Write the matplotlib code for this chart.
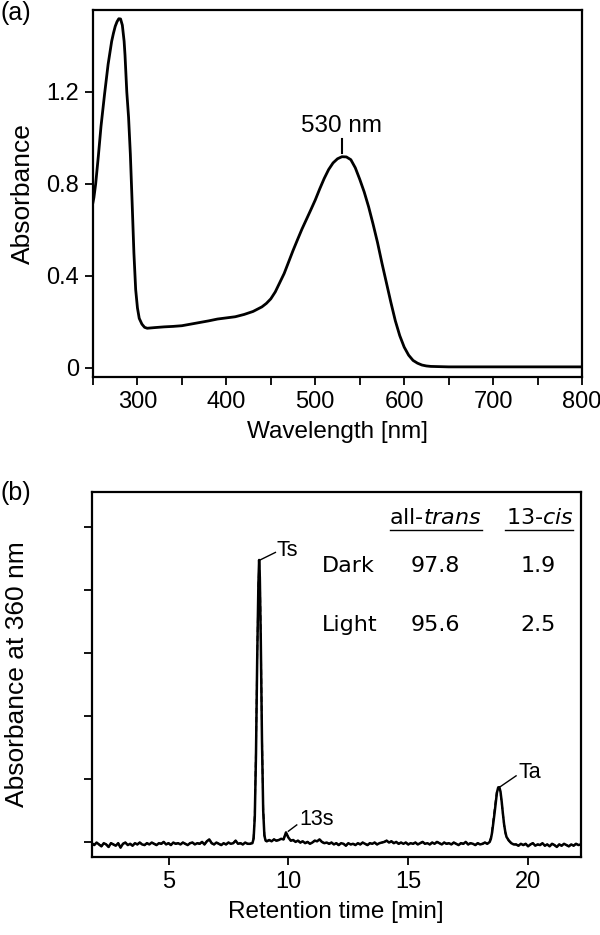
import numpy as np
import matplotlib
matplotlib.use('Agg')
import matplotlib.pyplot as plt

plt.rcParams['font.family'] = ['Liberation Sans', 'DejaVu Sans']
plt.rcParams['mathtext.fontset'] = 'dejavusans'

# (a) absorption spectrum
wavelength = [250, 251, 253, 256, 259, 263, 267, 271, 273, 275, 277, 279, 281, 283, 285,
              286, 288, 290, 292, 294, 296, 298, 300, 302, 305, 308, 311, 320, 330, 340,
              350, 360, 370, 380, 390, 400, 410, 420, 430, 440, 445, 450, 455, 460, 465,
              470, 475, 480, 485, 490, 495, 500, 505, 510, 515, 520, 525, 530, 535, 540,
              545, 550, 555, 560, 565, 570, 575, 580, 585, 590, 595, 600, 605, 610, 615,
              620, 625, 630, 640, 650, 700, 750, 800]
absorbance = [0.72, 0.74, 0.80, 0.92, 1.05, 1.19, 1.32, 1.42, 1.455, 1.485, 1.505, 1.518, 1.517, 1.49, 1.42,
              1.36, 1.20, 1.09, 0.93, 0.72, 0.50, 0.34, 0.26, 0.215, 0.19, 0.176, 0.172, 0.175, 0.178, 0.180,
              0.183, 0.19, 0.197, 0.204, 0.212, 0.217, 0.222, 0.232, 0.245, 0.265, 0.28, 0.30, 0.33, 0.37, 0.41,
              0.46, 0.51, 0.557, 0.603, 0.645, 0.687, 0.73, 0.778, 0.823, 0.862, 0.891, 0.909, 0.918, 0.917, 0.905,
              0.87, 0.82, 0.765, 0.70, 0.625, 0.545, 0.455, 0.37, 0.285, 0.205, 0.14, 0.09, 0.055, 0.032, 0.02,
              0.012, 0.008, 0.006, 0.005, 0.004, 0.004, 0.004, 0.004]

# (b) HPLC chromatogram, baseline sampled every 0.1 min from 1.8 to 22.2
base_t = np.arange(18, 223) / 10
baseline = [
    -0.02, -0.05, -0.01, -0.04, -0.07, -0.02, -0.04, -0.08, -0.02, -0.04,
    -0.06, -0.02, -0.09, -0.03, -0.01, -0.05, -0.03, -0.06, -0.02, -0.04,
    -0.01, -0.04, -0.05, -0.02, -0.04, -0.01, -0.03, -0.05, -0.02, -0.03,
    0.00, -0.04, -0.02, -0.05, -0.01, -0.03, -0.02, -0.04, -0.01, -0.03,
    -0.05, -0.02, -0.01, -0.04, -0.02, -0.03, 0.00, -0.04, 0.01, 0.04,
    -0.02, -0.04, -0.01, -0.03, -0.05, -0.02, -0.04, -0.01, -0.03, -0.02,
    0.02, -0.03, -0.02, -0.04, -0.01, -0.03, -0.02, -0.01, -0.02, 0.00,
    0.00, 0.00, 0.00, 0.01, 0.03, 0.01, 0.04, 0.02, 0.03, 0.05,
    0.04, 0.15, 0.07, 0.02, 0.03, 0.00, 0.02, -0.01, 0.01, -0.02,
    0.00, -0.03, -0.01, 0.02, 0.01, 0.04, 0.00, -0.02, -0.01, -0.03,
    -0.01, -0.04, -0.02, -0.05, -0.02, -0.03, -0.06, -0.02, -0.04, -0.03,
    -0.05, -0.02, -0.04, -0.01, -0.03, -0.05, -0.02, -0.03, -0.01, -0.04,
    -0.02, -0.01, 0.00, 0.02, -0.01, 0.01, -0.02, 0.00, -0.03, -0.01,
    -0.03, -0.01, -0.04, -0.02, -0.03, -0.01, -0.04, -0.02, 0.00, -0.03,
    -0.02, -0.04, -0.01, -0.03, 0.00, -0.02, -0.04, -0.01, -0.03, -0.02,
    -0.04, -0.01, -0.03, -0.05, -0.02, -0.03, 0.00, -0.04, -0.02, -0.03,
    -0.05, -0.02, -0.04, -0.03, -0.01, -0.03, 0.00, 0.00, 0.00, 0.00,
    0.00, 0.00, 0.00, 0.00, 0.00, 0.00, 0.00, -0.04, -0.06, -0.03,
    -0.05, -0.03, -0.07, -0.04, -0.02, -0.06, -0.04, -0.05, -0.02, -0.06,
    -0.04, -0.07, -0.03, -0.05, -0.08, -0.04, -0.06, -0.03, -0.05, -0.07,
    -0.04, -0.06, -0.03, -0.05, -0.04,
]

ts_t = [8.40, 8.50, 8.55, 8.60, 8.65, 8.70, 8.75, 8.78, 8.81, 8.85, 8.90, 8.95, 9.00, 9.05]
ts_dark = [-0.03, -0.02, 0.05, 0.40, 1.40, 2.90, 4.10, 4.48, 4.20, 3.20, 1.60, 0.50, 0.10, 0.02]
ts_light = [-0.03, -0.01, 0.07, 0.45, 1.50, 2.95, 4.05, 4.40, 4.25, 3.30, 1.70, 0.55, 0.12, 0.02]

ta_t = [18.30, 18.40, 18.45, 18.50, 18.55, 18.60, 18.65, 18.70, 18.75, 18.80, 18.85,
        18.90, 18.95, 19.00, 19.05, 19.10, 19.20, 19.30, 19.40]
ta_dark = [-0.03, 0.00, 0.05, 0.15, 0.30, 0.45, 0.62, 0.78, 0.86, 0.87, 0.80,
           0.64, 0.45, 0.28, 0.16, 0.08, 0.02, -0.02, -0.04]
ta_light = [-0.03, 0.01, 0.07, 0.19, 0.35, 0.50, 0.66, 0.80, 0.87, 0.86, 0.78,
            0.62, 0.44, 0.27, 0.15, 0.07, 0.02, -0.02, -0.04]

table_rows = ['Dark', 'Light']
all_trans = ['97.8', '95.6']
cis13 = ['1.9', '2.5']


def trace(peaks):
    t = base_t
    v = np.array(baseline)
    keep = np.ones(len(t), bool)
    for pt, pv in peaks:
        keep &= ~((t >= pt[0] - 1e-9) & (t <= pt[-1] + 1e-9))
    tt = np.concatenate([t[keep]] + [np.array(p[0]) for p in peaks])
    vv = np.concatenate([v[keep]] + [np.array(p[1]) for p in peaks])
    o = np.argsort(tt)
    return tt[o], vv[o]


fig = plt.figure(figsize=(6, 9.35), dpi=100)
ax1 = fig.add_axes([0.155, 0.5968, 0.815, 0.3925])
ax2 = fig.add_axes([0.153, 0.0834, 0.815, 0.3904])

for ax in (ax1, ax2):
    for s in ax.spines.values():
        s.set_linewidth(1.6)
    ax.tick_params(direction='out', length=6, width=1.3, labelsize=17, pad=4)
    ax.tick_params(which='minor', direction='out', length=6, width=1.3)

# panel a
ax1.plot(wavelength, absorbance, color='black', lw=2)
ax1.set_xlim(250, 800)
ax1.set_ylim(-0.04, 1.556)
ax1.set_xticks([300, 400, 500, 600, 700, 800])
ax1.set_xticks([250, 350, 450, 550, 650, 750], minor=True)
ax1.set_yticks([0, 0.4, 0.8, 1.2])
ax1.set_yticklabels(['0', '0.4', '0.8', '1.2'])
ax1.set_xlabel('Wavelength [nm]', fontsize=17.5, labelpad=6)
ax1.set_ylabel('Absorbance', fontsize=19, labelpad=8)
ax1.plot([530, 530], [0.935, 0.995], color='black', lw=1.5)
ax1.text(530, 1.005, '530 nm', ha='center', va='bottom', fontsize=17.5)
fig.text(0.0, 0.986, '(a)', fontsize=18, va='center', ha='left')

# panel b
t_d, v_d = trace([(ts_t, ts_dark), (ta_t, ta_dark)])
t_l, v_l = trace([(ts_t, ts_light), (ta_t, ta_light)])
ax2.plot(t_d, v_d, color='black', lw=1.8)
ax2.plot(t_l, v_l, color='black', lw=1.3, ls=(0, (3, 2)))
ax2.set_xlim(1.8, 22.2)
ax2.set_ylim(-0.24, 5.56)
ax2.set_xticks([5, 10, 15, 20])
ax2.set_yticks([0, 1, 2, 3, 4, 5])
ax2.set_yticklabels([])
ax2.set_xlabel('Retention time [min]', fontsize=17.5, labelpad=6)
ax2.set_ylabel('Absorbance at 360 nm', fontsize=19, labelpad=35)
fig.text(0.0, 0.473, '(b)', fontsize=18, va='center', ha='left')

ax2.plot([8.82, 9.46], [4.48, 4.6], color='black', lw=1)
ax2.text(9.5, 4.63, 'Ts', fontsize=15.5, va='center', ha='left')
ax2.plot([10.0, 10.35], [0.17, 0.27], color='black', lw=1)
ax2.text(10.45, 0.35, '13s', fontsize=15.5, va='center', ha='left')
ax2.plot([18.85, 19.5], [0.88, 1.05], color='black', lw=1)
ax2.text(19.6, 1.11, 'Ta', fontsize=15.5, va='center', ha='left')

tf = dict(transform=ax2.transAxes, fontsize=16, family='DejaVu Sans', va='center')
ax2.text(0.703, 0.93, 'all-$\\it{trans}$', ha='center', **tf)
ax2.text(0.916, 0.93, '13-$\\it{cis}$', ha='center', **tf)
ax2.plot([0.609, 0.798], [0.896, 0.896], transform=ax2.transAxes, color='black', lw=1)
ax2.plot([0.845, 0.985], [0.896, 0.896], transform=ax2.transAxes, color='black', lw=1)
for i, (r, a, c) in enumerate(zip(table_rows, all_trans, cis13)):
    y = 0.797 - i * 0.161
    ax2.text(0.47, y, r, ha='left', **tf)
    ax2.text(0.703, y, a, ha='center', **tf)
    ax2.text(0.912, y, c, ha='center', **tf)

fig.savefig('out.png', dpi=100)
